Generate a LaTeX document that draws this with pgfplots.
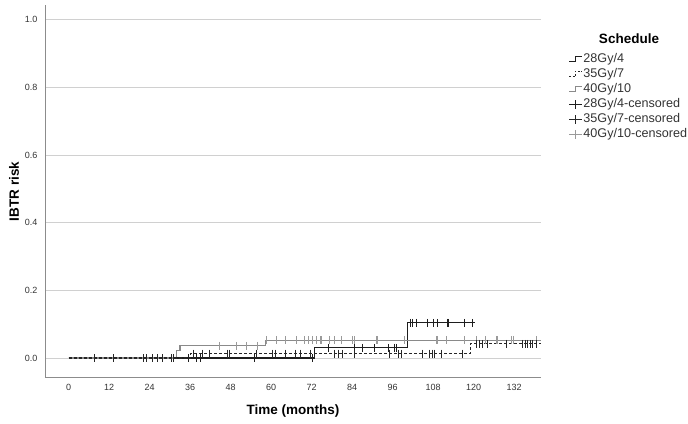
\documentclass[border=0pt]{standalone}
\usepackage{pgfplots}
\pgfplotsset{compat=1.18}
\usepackage{fontspec}
\setmainfont{Liberation Sans}
\definecolor{c28}{HTML}{1E1E1E}
\definecolor{c35}{HTML}{262626}
\definecolor{c40}{HTML}{8A8A8A}
\definecolor{c40m}{HTML}{9A9A9A}
\definecolor{gridc}{HTML}{D0D0D0}
\definecolor{axc}{HTML}{8C8C8C}
\definecolor{tickc}{HTML}{333333}
\begin{document}
\begin{tikzpicture}[x=1pt,y=1pt]
\useasboundingbox (0,0) rectangle (688,423);
\begin{axis}[
  at={(45pt,45pt)}, anchor=south west,
  scale only axis, width=496pt, height=373pt,
  xmin=-7, xmax=140, ymin=-0.059, ymax=1.044,
  axis x line*=bottom, axis y line*=left,
  axis line style={axc, line width=1pt, -},
  xtick={0,12,...,132}, ytick={0,0.2,0.4,0.6,0.8,1.0},
  major tick length=0pt,
  ymajorgrids, grid style={gridc, line width=0.8pt},
  /pgf/number format/assume math mode=true,
  yticklabel style={/pgf/number format/fixed, /pgf/number format/fixed zerofill, /pgf/number format/precision=1, xshift=-4pt},
  tick label style={font=\fontsize{9}{10}\selectfont, text=tickc},
  xticklabel style={yshift=-3pt},
  xlabel={Time (months)}, ylabel={IBTR risk},
  label style={font=\fontsize{13.5}{15}\selectfont\bfseries, text=black},
  xlabel style={at={(axis description cs:0.5,-0.088)}, anchor=center},
  ylabel style={at={(axis description cs:-0.0625,0.5)}, anchor=center},
  legend style={at={(1.056,0.873)}, anchor=north west, draw=none, fill=none,
    inner sep=0pt, font=\fontsize{12.6}{14}\selectfont, text=tickc, row sep=2pt,
    nodes={inner sep=0.5pt, text height=9.5pt, text depth=2.5pt}},
  legend cell align=left,
]
\addlegendimage{legend image code/.code={\draw[c28,line width=1pt] (0pt,-2.5pt) -- (6pt,-2.5pt) -- (6pt,3pt) -- (13pt,3pt);}}
\addlegendentry{28Gy/4}
\addlegendimage{legend image code/.code={\draw[c35,line width=1pt,dash pattern=on 2pt off 1.5pt] (0pt,-2.5pt) -- (6pt,-2.5pt) -- (6pt,3pt) -- (13pt,3pt);}}
\addlegendentry{35Gy/7}
\addlegendimage{legend image code/.code={\draw[c40,line width=1pt] (0pt,-2.5pt) -- (6pt,-2.5pt) -- (6pt,3pt) -- (13pt,3pt);}}
\addlegendentry{40Gy/10}
\addlegendimage{legend image code/.code={\draw[c28,line width=1pt] (0pt,0pt) -- (13pt,0pt) (6.5pt,-4.5pt) -- (6.5pt,4.5pt);}}
\addlegendentry{28Gy/4-censored}
\addlegendimage{legend image code/.code={\draw[c35,line width=1pt] (0pt,0pt) -- (13pt,0pt) (6.5pt,-4.5pt) -- (6.5pt,4.5pt);}}
\addlegendentry{35Gy/7-censored}
\addlegendimage{legend image code/.code={\draw[c40m,line width=1pt] (0pt,0pt) -- (13pt,0pt) (6.5pt,-4.5pt) -- (6.5pt,4.5pt);}}
\addlegendentry{40Gy/10-censored}

% 28Gy/4 line
\addplot[forget plot, c28, line width=1.1pt, const plot] coordinates {
(0,0) (73,0.030) (100.3,0.104) (120.3,0.104)};
% 40Gy/10 line
\addplot[forget plot, c40, line width=1.1pt, const plot] coordinates {
(0,0) (32,0.021) (33,0.036) (58.3,0.053) (140,0.053)};
% 35Gy/7 line
\addplot[forget plot, c35, line width=1.1pt, const plot, dash pattern=on 3pt off 2pt] coordinates {
(0,0) (36,0.013) (119,0.042) (140,0.042)};

% censored marks 40Gy/10
\addplot[forget plot, only marks, mark=|, mark size=4pt, mark options={c40m, line width=0.9pt}] coordinates {
(44.7,0.036) (49.7,0.036) (52.6,0.036) (56.1,0.036) (58.6,0.053)
(61.5,0.053) (64.3,0.053) (67.5,0.053) (69.9,0.053) (71.2,0.053) (72.4,0.053)
(73.4,0.053) (74.6,0.053) (74.9,0.053) (77.3,0.053) (78.8,0.053) (80.8,0.053)
(84.1,0.053) (84.7,0.053) (91.2,0.053) (91.5,0.053) (99.6,0.053) (108.9,0.053)
(109.4,0.053) (111.9,0.053) (117.3,0.053) (120.8,0.053) (123.6,0.053)
(126.7,0.053) (127.2,0.053) (131.2,0.053) (131.7,0.053) (138.6,0.053)};
% censored marks 28Gy/4
\addplot[forget plot, only marks, mark=|, mark size=4pt, mark options={c28, line width=1pt}] coordinates {
(35.4,0) (37.8,0) (39,0) (55.1,0) (72.4,0)
(77.1,0.030) (84.7,0.030) (87,0.030) (90.7,0.030) (94.9,0.030) (96.6,0.030) (97.3,0.030)
(101.3,0.104) (102,0.104) (103,0.104) (106.5,0.104) (108,0.104) (109.3,0.104)
(112.4,0.104) (112.7,0.104) (117.3,0.104) (119.6,0.104)};
% censored marks 35Gy/7
\addplot[forget plot, only marks, mark=|, mark size=4pt, mark options={c35, line width=1pt}] coordinates {
(7.7,0) (13.4,0) (22.2,0) (23.2,0) (24.8,0) (26.2,0) (27.8,0) (30.4,0) (31.1,0)
(37,0.013) (39.8,0.013) (41.8,0.013) (47.2,0.013) (47.7,0.013) (55.6,0.013)
(60.5,0.013) (61.3,0.013) (64.3,0.013) (67.3,0.013) (68.7,0.013) (71.7,0.013)
(78.8,0.013) (80.1,0.013) (81.1,0.013) (84.7,0.013) (95.1,0.013) (97.8,0.013)
(98.6,0.013) (105,0.013) (107,0.013) (107.8,0.013) (108.4,0.013) (110.4,0.013)
(116.8,0.013)
(120.8,0.042) (121.8,0.042) (122.8,0.042) (124.2,0.042) (129.7,0.042)
(134.6,0.042) (135.4,0.042) (136.1,0.042) (136.8,0.042) (137.6,0.042) (138.6,0.042)};
\end{axis}
\node[font=\fontsize{13.5}{15}\selectfont\bfseries] at (629,384) {Schedule};
\end{tikzpicture}
\end{document}
